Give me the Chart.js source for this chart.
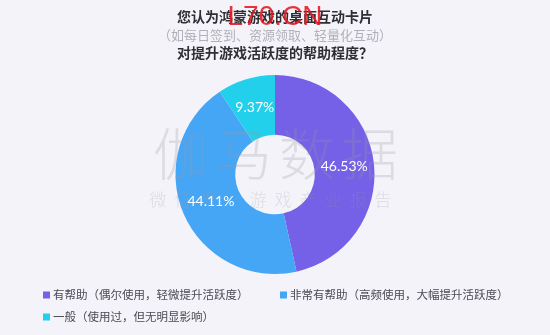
<!DOCTYPE html>
<html>
<head>
<meta charset="utf-8">
<script src="https://cdn.jsdelivr.net/npm/chart.js@4/dist/chart.umd.min.js"></script>
<style>
  html, body { margin: 0; padding: 0; background: #f4f3f9; }
  #wrap { width: 550px; height: 335px; }
</style>
</head>
<body>
<div id="wrap"><canvas id="chart" width="550" height="335"></canvas></div>
<script>
// 数据
const titleLines = ['您认为鸿蒙游戏的桌面互动卡片', '（如每日签到、资源领取、轻量化互动）', '对提升游戏活跃度的帮助程度？'];
const categories = ['有帮助（偶尔使用，轻微提升活跃度）', '非常有帮助（高频使用，大幅提升活跃度）', '一般（使用过，但无明显影响）'];
const shares = [46.53, 44.11, 9.37];
const sliceColors = ['#7461e7', '#46a6f6', '#22d0ec'];

const CJK = '"Noto Sans CJK SC", "Noto Sans", sans-serif';

// 背景
const bgPlugin = {
    id: 'bg',
    beforeDraw(chart) {
        const ctx = chart.ctx;
        ctx.save();
        ctx.fillStyle = '#f4f3f9';
        ctx.fillRect(0, 0, chart.width, chart.height);
        ctx.restore();
    }
};

// 标题 + 水印 + 数值标签 + 图例
const decoPlugin = {
    id: 'deco',
    afterDatasetsDraw(chart) {
        const ctx = chart.ctx;
        ctx.save();

        // 水印
        ctx.fillStyle = 'rgba(150,150,162,0.26)';
        ctx.textBaseline = 'middle';
        ctx.textAlign = 'center';
        ctx.font = '300 56px ' + CJK;
        const big = ['伽', '马', '数', '据'];
        big.forEach((c, i) => ctx.fillText(c, 181 + i * 63, 154));
        ctx.font = '300 17px ' + CJK;
        const small = ['微', '信', '号', '', '游', '戏', '产', '业', '报', '告'];
        small.forEach((c, i) => { if (c) ctx.fillText(c, 158 + i * 25, 200); });

        // 数值标签
        const meta = chart.getDatasetMeta(0);
        ctx.fillStyle = '#ffffff';
        ctx.font = '14px Lato, "Noto Sans", sans-serif';
        meta.data.forEach((arc, i) => {
            const p = arc.tooltipPosition();
            ctx.fillText(shares[i].toFixed(2) + '%', p.x, p.y);
        });

        // 标题
        ctx.fillStyle = '#2e2e35';
        ctx.font = 'bold 14px ' + CJK;
        ctx.fillText(titleLines[0], 275, 17);
        ctx.fillStyle = '#b0b0b8';
        ctx.font = '13px ' + CJK;
        ctx.fillText(titleLines[1], 275, 35);
        ctx.fillStyle = '#2e2e35';
        ctx.font = 'bold 14px ' + CJK;
        ctx.fillText(titleLines[2], 275, 53);

        // 图例
        const legendPos = [[43, 295], [280, 295], [43, 317]];
        ctx.textAlign = 'left';
        ctx.font = '11.5px ' + CJK;
        categories.forEach((name, i) => {
            const [x, y] = legendPos[i];
            ctx.fillStyle = sliceColors[i];
            ctx.fillRect(x, y - 3.5, 7, 7);
            ctx.fillStyle = '#4a4a52';
            ctx.fillText(name, x + 10, y);
        });

        // 红色印章
        ctx.textAlign = 'center';
        ctx.fillStyle = 'rgba(228,24,32,0.88)';
        ctx.font = '28px "Liberation Sans", sans-serif';
        ctx.fillText('L70.CN', 275, 17);

        ctx.restore();
    }
};

new Chart(document.getElementById('chart'), {
    type: 'doughnut',
    data: {
        labels: categories,
        datasets: [{
            data: shares,
            backgroundColor: sliceColors,
            borderWidth: 0
        }]
    },
    options: {
        responsive: false,
        animation: false,
        cutout: '40%',
        layout: { padding: { top: 75, bottom: 61, left: 0, right: 0 } },
        plugins: {
            legend: { display: false },
            tooltip: { enabled: false },
            title: { display: false }
        }
    },
    plugins: [bgPlugin, decoPlugin]
});
</script>
</body>
</html>
